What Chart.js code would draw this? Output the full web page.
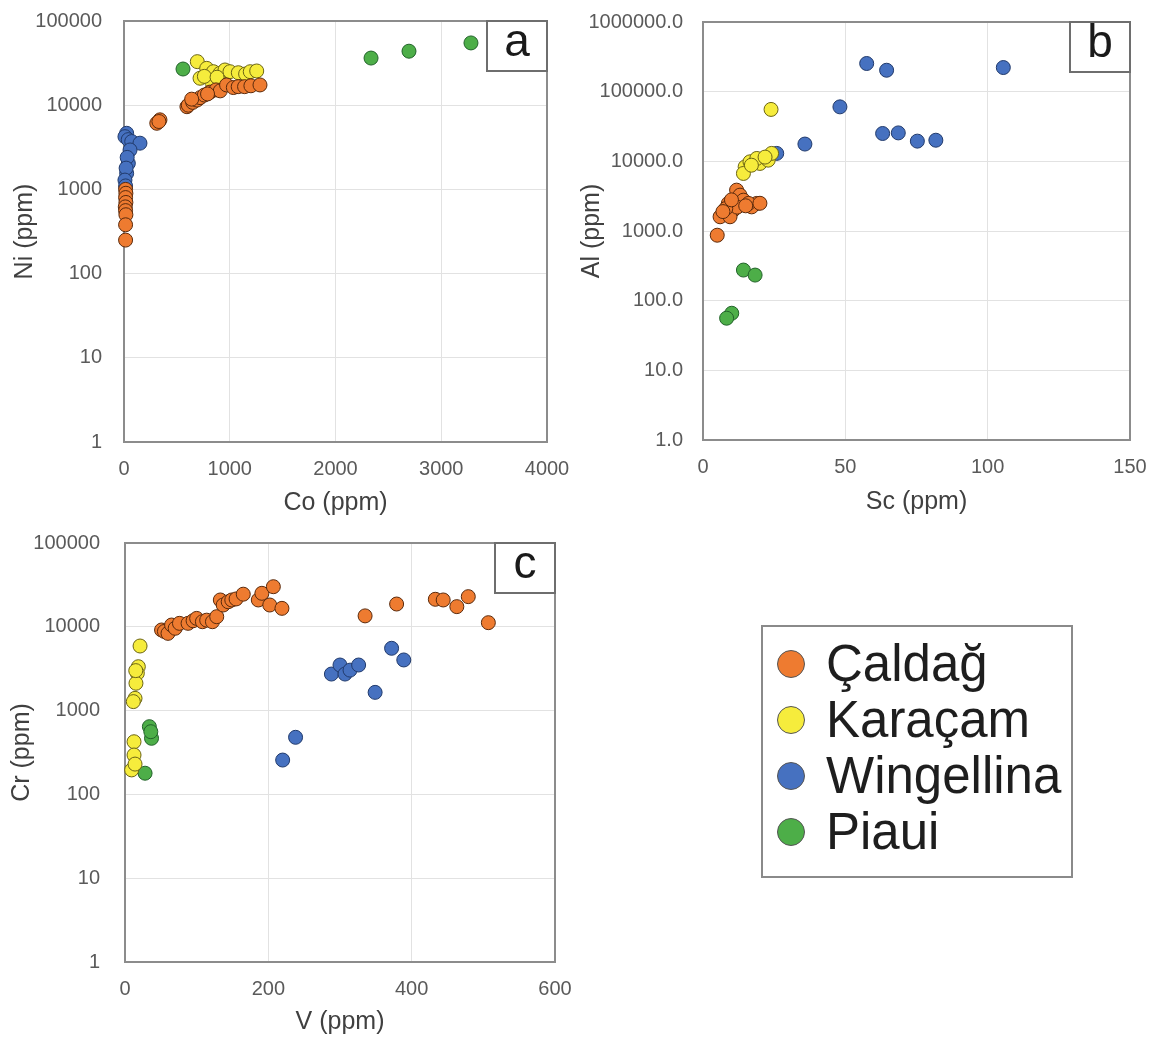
<!DOCTYPE html>
<html>
<head>
<meta charset="utf-8">
<script src="https://cdn.jsdelivr.net/npm/chart.js@4.4.1/dist/chart.umd.min.js"></script>
<style>
  body { margin: 0; background: #fff; width: 1153px; height: 1037px; position: relative; overflow: hidden; }
  canvas { position: absolute; }
  #chartA { left: 0; top: 0; }
  #chartB { left: 565px; top: 0; }
  #chartC { left: 0; top: 522px; }
  .legend {
    position: absolute; left: 761px; top: 625px; width: 308px; height: 249px;
    border: 2px solid #8a8a8a; font-family: "Liberation Sans", Arial, sans-serif;
  }
  .legend .row { position: absolute; left: 0; height: 56px; display: flex; align-items: center; white-space: nowrap; }
  .legend .dot { width: 28px; height: 28px; border-radius: 50%; margin-left: 14px; margin-right: 21px; box-sizing: border-box; border: 1px solid #555; flex: none; }
  .legend span { font-size: 51px; color: #1e1e1e; line-height: 56px; }
</style>
</head>
<body>
<canvas id="chartA" width="575" height="520"></canvas>
<canvas id="chartB" width="588" height="520"></canvas>
<canvas id="chartC" width="590" height="515"></canvas>

<div class="legend" id="legend"></div>

<script>
// series names and colours
const seriesNames = ['Çaldağ', 'Karaçam', 'Wingellina', 'Piaui'];
const seriesFill = ['#EE7B30', '#F6EC3C', '#4671C0', '#4DAE48'];
const seriesEdge = ['#5a2a0c', '#6b6414', '#213a6b', '#22622a'];

// panel a: Co (ppm) vs Ni (ppm)
const caldagCoNi = [[15,1000],[18,900],[15,800],[18,700],[12,620],[15,560],[18,500],[15,380],[15,250],
  [310,6100],[340,6700],[330,6400],
  [595,9600],[608,10000],[650,10800],[690,11500],[720,12300],[760,13200],[813,14300],[870,15200],
  [910,14800],[970,17400],[1034,16200],[1080,16600],[1140,16600],[1200,17000],[1286,17400],[640,11800],[790,13600]];
const karacamCoNi = [[693,32900],[719,20900],[782,27400],[829,19000],[845,25000],[908,23900],[955,26200],
  [1002,25000],[1081,24300],[1150,23500],[1194,25000],[1255,25500],[760,22000],[880,21500]];
const wingellinaCoNi = [[25,4640],[9,4230],[40,3900],[73,3700],[151,3540],[57,2940],[41,2040],[30,2400],
  [25,1550],[20,1790],[9,1290],[15,1100]];
const piauiCoNi = [[558,26900],[2336,36300],[2695,43800],[3281,54900]];

// panel b: Sc (ppm) vs Al (ppm)
const caldagScAl = [[5,870],[11.8,3860],[13,3270],[8.9,2490],[7.1,1790],[14.2,2770],[18.9,2490],[17.1,2220],
  [10.6,1990],[6,1600],[9.5,1600],[16,2490],[12,2200],[15,2300],[8,2100],[10,2800],[7,1900],[20,2500]];
const karacamScAl = [[23.9,55600],[14.8,8340],[16.5,9840],[20,9330],[22.9,10400],[24.1,13000],[14.2,6700],
  [18.9,11000],[21.8,11500],[17,8800]];
const wingellinaScAl = [[57.5,253700],[64.5,203000],[105.5,222000],[48.1,60500],[63.1,25100],[68.6,25600],
  [75.3,19500],[81.8,20100],[35.8,17700],[25.9,13000]];
const piauiScAl = [[14.2,275],[18.3,233],[10.1,66],[8.3,56]];

// panel c: V (ppm) vs Cr (ppm)
const caldagVCr = [[51,9160],[55,8800],[60,8350],[65,10500],[70,9600],[76,11000],[88,11000],[95,11800],
  [100,12600],[108,11500],[114,12000],[122,11500],[128,13200],[133,20900],[137,18200],[144,19900],[149,20900],
  [155,21500],[165,24500],[186,20900],[191,25100],[202,18200],[207,30100],[219,16600],
  [335,13500],[379,18700],[433,21300],[444,20900],[463,17400],[479,22900],[507,11200]];
const karacamVCr = [[21,5900],[18.6,3340],[17.2,2790],[15.3,2120],[14,1400],[11.6,1280],[12.6,425],[12.6,295],
  [9.3,196],[14,230],[15,3000]];
const wingellinaVCr = [[288,2730],[300,3500],[307,2730],[314,3040],[326,3500],[372,5540],[389,4020],[349,1650],
  [238,480],[220,257]];
const piauiVCr = [[34,643],[37,467],[28,179],[36,560]];

const decadesA = [1, 10, 100, 1000, 10000, 100000];
const decadesB = [1, 10, 100, 1000, 10000, 100000, 1000000];

const FONT = '"Liberation Sans", Arial, sans-serif';
const tickColor = '#5a5a5a';
const titleColor = '#404040';
const gridColor = '#e2e2e2';

// frame round the plot area, drawn under the points
const framePlugin = {
  id: 'frame',
  beforeDatasetsDraw(chart) {
    const { ctx, chartArea: a } = chart;
    ctx.save();
    ctx.strokeStyle = '#8c8c8c';
    ctx.lineWidth = 2;
    ctx.strokeRect(a.left, a.top, a.right - a.left, a.bottom - a.top);
    ctx.restore();
  }
};

// boxed panel letter in the top right corner
const panelLabelPlugin = {
  id: 'panelLabel',
  afterDatasetsDraw(chart, args, opts) {
    const { ctx, chartArea: a } = chart;
    const w = 60, h = 50;
    ctx.save();
    ctx.fillStyle = '#fff';
    ctx.fillRect(a.right - w, a.top, w, h);
    ctx.strokeStyle = '#6e6e6e';
    ctx.lineWidth = 2;
    ctx.strokeRect(a.right - w, a.top, w, h);
    ctx.fillStyle = '#1a1a1a';
    ctx.font = '46px ' + FONT;
    ctx.textAlign = 'center';
    ctx.textBaseline = 'middle';
    ctx.fillText(opts.text, a.right - w / 2, a.top + h / 2 - 3);
    ctx.restore();
  }
};

function makeDatasets(groups) {
  return groups.map((pts, i) => ({
    label: seriesNames[i],
    data: pts.map(p => ({ x: p[0], y: p[1] })),
    backgroundColor: seriesFill[i],
    borderColor: seriesEdge[i],
    borderWidth: 1,
    pointRadius: 7,
    pointHoverRadius: 7,
    clip: false
  }));
}

// the gap between labels and frame is made with invisible tick marks,
// so that it does not add to the layout padding
function makeChart(id, o) {
  return new Chart(document.getElementById(id), {
    type: 'scatter',
    data: { datasets: makeDatasets(o.groups) },
    options: {
      responsive: false,
      animation: false,
      layout: { padding: { left: 0, top: o.top, right: o.right, bottom: 0 } },
      plugins: {
        legend: { display: false },
        tooltip: { enabled: false },
        panelLabel: { text: o.letter }
      },
      scales: {
        x: {
          type: 'linear',
          min: 0, max: o.xMax,
          ticks: {
            stepSize: o.xStep, color: tickColor, font: { family: FONT, size: 20 }, padding: 0, maxRotation: 0,
            callback: v => String(v)
          },
          grid: { color: gridColor, drawTicks: true, tickLength: 15, tickColor: 'rgba(0,0,0,0)' },
          border: { display: false },
          title: { display: true, text: o.xTitle, color: titleColor, font: { family: FONT, size: 25 }, padding: { top: 0, bottom: o.xTitlePad } },
          afterFit(s) { s.height = o.xHeight; }
        },
        y: {
          type: 'logarithmic',
          min: 1, max: o.yTicks[o.yTicks.length - 1],
          afterBuildTicks(s) { s.ticks = o.yTicks.map(v => ({ value: v })); },
          ticks: {
            color: tickColor, font: { family: FONT, size: 20 }, padding: 0,
            callback: v => o.decimals ? Number(v).toFixed(1) : String(v)
          },
          grid: { color: gridColor, drawTicks: true, tickLength: o.yTickGap, tickColor: 'rgba(0,0,0,0)' },
          border: { display: false },
          title: { display: true, text: o.yTitle, color: titleColor, font: { family: FONT, size: 25 }, padding: { top: o.yTitlePad, bottom: 0 } },
          afterFit(s) { s.width = o.yWidth; }
        }
      }
    },
    plugins: [framePlugin, panelLabelPlugin]
  });
}

makeChart('chartA', {
  groups: [caldagCoNi, karacamCoNi, wingellinaCoNi, piauiCoNi],
  letter: 'a', xMax: 4000, xStep: 1000, xTitle: 'Co (ppm)', yTitle: 'Ni (ppm)',
  yTicks: decadesA, decimals: false,
  top: 21, right: 28,
  yWidth: 124, xHeight: 78, yTickGap: 22, yTitlePad: 10, xTitlePad: 2
});

makeChart('chartB', {
  groups: [caldagScAl, karacamScAl, wingellinaScAl, piauiScAl],
  letter: 'b', xMax: 150, xStep: 50, xTitle: 'Sc (ppm)', yTitle: 'Al (ppm)',
  yTicks: decadesB, decimals: true,
  top: 22, right: 23,
  yWidth: 138, xHeight: 80, yTickGap: 20, yTitlePad: 12, xTitlePad: 3
});

makeChart('chartC', {
  groups: [caldagVCr, karacamVCr, wingellinaVCr, piauiVCr],
  letter: 'c', xMax: 600, xStep: 200, xTitle: 'V (ppm)', yTitle: 'Cr (ppm)',
  yTicks: decadesA, decimals: false,
  top: 21, right: 35,
  yWidth: 125, xHeight: 75, yTickGap: 25, yTitlePad: 7, xTitlePad: 0
});

// legend box
const legendEl = document.getElementById('legend');
seriesNames.forEach((name, i) => {
  const row = document.createElement('div');
  row.className = 'row';
  row.style.top = (9 + i * 56) + 'px';
  const dot = document.createElement('div');
  dot.className = 'dot';
  dot.style.background = seriesFill[i];
  const txt = document.createElement('span');
  txt.textContent = name;
  row.appendChild(dot);
  row.appendChild(txt);
  legendEl.appendChild(row);
});
</script>
</body>
</html>
